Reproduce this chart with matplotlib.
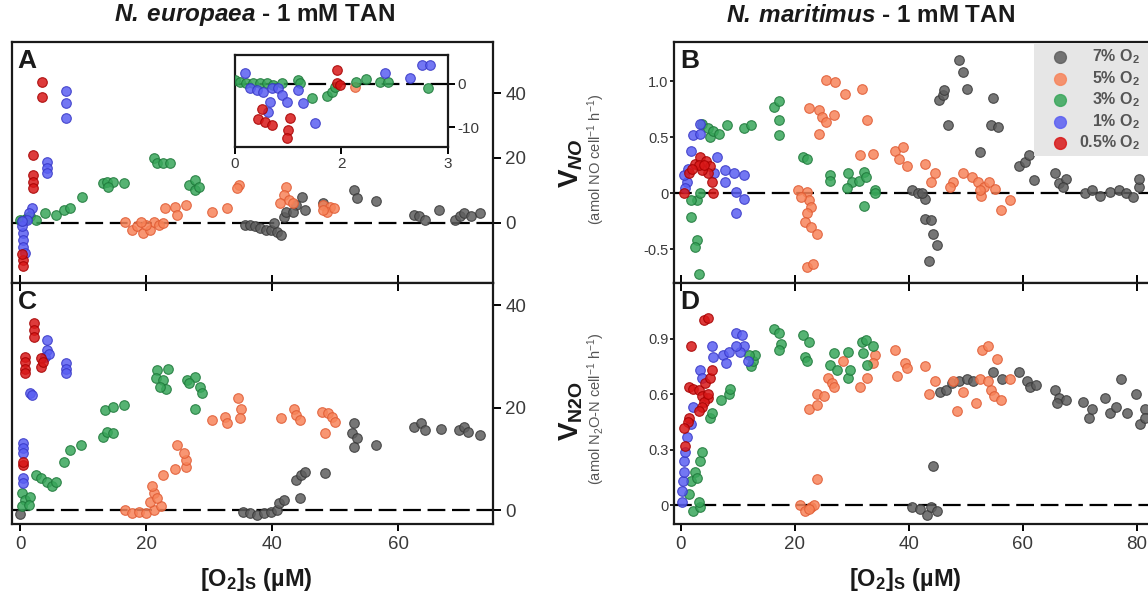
import matplotlib.pyplot as plt
from matplotlib.patches import Rectangle

plt.rcParams['font.family'] = ['Liberation Sans', 'DejaVu Sans']
plt.rcParams['mathtext.fontset'] = 'custom'
plt.rcParams['mathtext.rm'] = 'Liberation Sans'
plt.rcParams['mathtext.it'] = 'Liberation Sans:italic'
plt.rcParams['mathtext.bf'] = 'Liberation Sans:bold'
plt.rcParams['mathtext.bfit'] = 'Liberation Sans:bold:italic'

# O2 levels, drawn in this order (lowest on top)
levels = ['7% O$_\\mathbf{2}$', '5% O$_\\mathbf{2}$', '3% O$_\\mathbf{2}$', '1% O$_\\mathbf{2}$',
          '0.5% O$_\\mathbf{2}$']
face = ['#5e5e5e', '#f7845a', '#38a65a', '#5a5ff2', '#d81818']
edge = ['#383838', '#e05a32', '#1d783a', '#3636c6', '#a60000']

# ---- N. europaea, V_NO (panel A) ----
a_7 = ([35.6, 36.4, 37.3, 38.1, 39.0, 39.8, 40.7, 41.3, 40.3, 41.8, 42.1, 44.7, 43.8, 45.2, 43.3,
        48.0, 52.9, 53.4, 56.5, 62.5, 63.3, 64.2, 66.4, 69.0, 69.8, 70.4, 71.5, 72.9],
       [-0.6, -0.6, -1.1, -1.6, -2.2, -2.2, -2.7, -3.7, -0.1, 1.9, 3.5, 8.1, 5.5, 4.0, 3.5,
        6.1, 10.2, 7.6, 6.6, 2.5, 2.0, 0.9, 4.0, 0.9, 2.0, 3.0, 2.0, 3.0])
a_5 = ([16.6, 17.8, 18.6, 19.5, 20.6, 21.2, 22.0, 22.6, 20.0, 19.2, 22.9, 24.6, 24.8, 26.3, 30.5,
        32.8, 34.7, 34.4, 42.1, 41.8, 42.7, 43.2, 41.2, 48.0, 49.2, 48.6, 48.0, 49.8],
       [0.4, -2.2, -1.1, -3.2, -2.2, 0.4, -0.6, 0.0, -0.6, 0.4, 4.5, 5.0, 2.5, 5.5, 3.5,
        4.5, 11.7, 10.7, 11.2, 8.6, 7.1, 6.1, 6.1, 5.5, 5.0, 3.5, 4.0, 4.5])
a_3 = ([0.0, 0.3, 0.6, 1.0, 1.5, 2.5, 3.9, 5.6, 7.0, 7.9, 9.8, 13.2, 13.8, 14.7, 16.4, 14.0,
        21.2, 21.7, 22.6, 23.7, 26.8, 27.7, 27.7, 28.3],
       [0.9, 0.5, 1.0, 1.5, 2.0, 1.0, 3.0, 2.5, 4.0, 4.5, 8.1, 12.2, 12.7, 12.7, 12.2, 11.2,
        19.9, 18.4, 18.4, 18.4, 11.7, 13.2, 10.2, 11.2])
a_1 = ([7.3, 7.3, 7.3, 4.2, 4.2, 4.2, 1.8, 1.4, 1.0, 0.5, 0.5, 0.5, 0.7, 0.3, 0.2],
       [40.7, 36.8, 32.2, 18.9, 16.8, 15.3, 4.5, 3.0, 1.0, -3.2, -5.2, -7.3, -9.3, -1.0, 0.5])
a_05 = ([3.45, 3.45, 2.0, 2.0, 2.0, 2.0, 0.4, 0.4, 0.3],
        [43.5, 38.9, 20.9, 14.6, 12.7, 10.7, -11.4, -13.4, -9.5])

# inset of A, low O2 range
i_5 = ([1.69], [-0.6])
i_3 = ([0.0, 0.07, 0.16, 0.26, 0.35, 0.45, 0.54, 0.66, 0.89, 0.92, 1.08, 1.29, 1.36, 1.41,
        1.71, 1.85, 2.04, 2.16, 2.72],
       [0.9, 0.5, 0.2, 0.2, 0.2, 0.2, -0.2, 0.2, 0.9, 0.2, -3.3, -2.9, -1.8, -0.6,
        0.5, 1.1, 0.5, 0.5, -1.0])
i_1 = ([0.14, 0.21, 0.31, 0.40, 0.52, 0.61, 0.66, 0.73, 0.49, 0.47, 0.96, 0.89, 1.13, 2.11,
        2.46, 2.63, 2.75],
       [2.5, -1.0, -1.4, -1.8, -1.0, -1.0, -2.6, -4.1, -4.1, -6.4, -4.5, -1.4, -9.1, 2.6,
        1.3, 4.3, 4.3])
i_05 = ([1.43, 1.43, 1.48, 0.38, 0.33, 0.42, 0.52, 0.77, 0.75, 0.73],
        [3.3, 0.2, -0.2, -5.7, -8.2, -8.7, -9.5, -8.0, -10.7, -12.6])

# ---- N. europaea, V_N2O (panel C) ----
c_7 = ([0.0, 35.3, 36.4, 37.6, 38.7, 39.8, 40.7, 41.0, 41.8, 44.4, 43.8, 44.6, 45.2, 48.3, 52.9,
        52.6, 53.4, 52.9, 56.5, 62.5, 63.6, 64.2, 66.7, 69.6, 70.4, 71.0, 72.9],
       [-0.7, -0.3, -0.6, -1.0, -0.6, -0.3, 0.0, 1.3, 2.0, 2.3, 5.9, 6.8, 7.5, 7.2, 16.9,
        15.0, 14.0, 12.4, 12.7, 16.3, 16.9, 15.6, 15.9, 15.6, 16.3, 15.3, 14.6])
c_5 = ([16.6, 17.8, 18.9, 20.0, 21.2, 22.3, 20.6, 21.2, 20.9, 21.7, 22.6, 24.6, 26.3, 26.3, 26.0,
        24.8, 30.5, 32.5, 32.8, 34.5, 35.0, 34.8, 41.3, 43.5, 43.8, 44.4, 47.8, 48.9, 49.5,
        50.0, 48.3],
       [0.0, -0.6, -0.3, -0.6, 0.0, 0.7, 1.6, 3.3, 4.6, 2.3, 6.8, 8.1, 8.5, 9.8, 11.1,
        12.7, 17.6, 18.2, 16.9, 21.8, 19.8, 17.9, 17.9, 19.8, 18.5, 17.6, 19.2, 18.9, 18.2,
        17.2, 15.0])
c_3 = ([0.2, 0.8, 1.6, 0.2, 1.4, 2.5, 3.3, 4.2, 5.0, 5.6, 7.0, 7.9, 9.6, 13.2, 13.8, 14.7,
        13.5, 14.7, 16.4, 21.7, 23.4, 21.5, 22.6, 23.1, 22.1, 26.5, 27.7, 28.5, 28.8, 27.7, 26.8],
       [3.3, 2.0, 2.6, 0.7, 1.0, 6.8, 6.2, 5.5, 4.6, 5.5, 9.4, 11.7, 12.7, 14.3, 15.3, 15.0,
        19.5, 20.2, 20.5, 27.3, 27.6, 25.7, 25.4, 23.7, 24.1, 25.4, 26.0, 24.1, 22.8, 19.8, 24.7])
c_1 = ([4.2, 4.2, 3.9, 4.6, 7.3, 7.3, 7.3, 1.6, 1.9, 0.5, 0.5, 0.5, 0.5, 0.5],
       [33.2, 31.2, 29.9, 30.5, 28.6, 27.6, 26.7, 22.8, 22.4, 13.0, 12.1, 11.1, 6.2, 5.2])
c_05 = ([2.2, 2.2, 2.2, 0.8, 0.8, 0.8, 0.8, 3.3, 3.3, 3.6, 0.5, 0.5],
        [36.4, 35.1, 33.8, 29.9, 28.9, 27.6, 26.7, 29.6, 28.0, 28.9, 8.8, 9.4])

# ---- N. maritimus, V_NO (panel B) ----
b_7 = ([40.6, 41.6, 42.9, 42.3, 42.9, 43.9, 44.2, 44.9, 43.6, 45.2, 45.9, 46.2, 46.9, 48.8, 49.5,
        50.2, 52.4, 54.4, 55.7, 54.8, 59.4, 60.4, 61.0, 62.0, 65.6, 66.3, 67.6, 67.0, 70.9,
        72.2, 73.5, 75.2, 76.8, 78.1, 79.4, 80.4, 80.4],
       [0.03, 0.0, -0.05, 0.0, -0.23, -0.24, -0.36, -0.46, -0.60, 0.83, 0.88, 0.92, 0.61, 1.19,
        1.08, 0.93, 0.37, 0.61, 0.59, 0.85, 0.24, 0.28, 0.34, 0.12, 0.18, 0.09, 0.13, 0.06, 0.0,
        0.03, -0.02, 0.01, 0.03, 0.0, -0.03, 0.06, 0.13])
b_5 = ([20.6, 22.2, 22.5, 22.9, 22.2, 21.8, 22.9, 23.8, 22.2, 23.2, 21.0, 22.5, 24.2, 24.8, 26.8,
        25.5, 24.2, 25.5, 27.1, 28.8, 31.7, 32.7, 31.4, 33.7, 37.6, 38.9, 38.3, 39.6, 42.9,
        44.6, 43.9, 47.8, 49.5, 51.1, 52.1, 53.1, 54.1, 55.1, 52.7, 56.1, 57.7, 47.2, 52.4],
       [0.03, 0.01, -0.06, -0.12, -0.18, -0.26, -0.30, -0.36, -0.66, -0.63, -0.03, 0.76, 0.74,
        0.68, 0.70, 0.64, 0.53, 1.01, 0.99, 0.89, 0.93, 0.65, 0.34, 0.35, 0.38, 0.41, 0.31,
        0.24, 0.26, 0.18, 0.10, 0.10, 0.18, 0.15, 0.10, 0.06, 0.10, 0.04, -0.02, -0.15, -0.06,
        0.06, 0.03])
b_3 = ([2.8, 1.8, 1.8, 2.8, 2.5, 3.1, 3.4, 3.8, 4.8, 5.1, 5.7, 6.7, 8.1, 11.0, 12.3, 16.3, 17.3,
        17.3, 17.3, 21.5, 22.2, 26.1, 26.1, 29.4, 30.0, 31.3, 32.1, 32.4, 34.0, 34.0, 32.1, 29.1],
       [-0.06, -0.06, -0.21, -0.42, -0.48, -0.72, 0.0, 0.62, 0.58, 0.50, 0.56, 0.53, 0.61, 0.58,
        0.61, 0.77, 0.82, 0.65, 0.52, 0.32, 0.31, 0.16, 0.11, 0.18, 0.10, 0.11, 0.19, 0.15, 0.03,
        0.0, -0.11, 0.05])
b_1 = ([1.1, 0.5, 1.8, 2.1, 3.4, 3.4, 6.4, 5.8, 7.7, 9.4, 11.0, 7.7, 9.7, 11.0, 9.7, 0.8, 1.3],
       [0.10, 0.16, 0.38, 0.52, 0.62, 0.53, 0.32, 0.18, 0.21, 0.18, 0.16, 0.10, 0.01, -0.05,
        -0.18, 0.05, 0.22])
b_05 = ([0.5, 1.5, 2.5, 3.4, 4.4, 5.1, 4.8, 5.4, 3.8, 5.7, 3.1, 4.1, 2.0],
        [0.0, 0.18, 0.26, 0.32, 0.29, 0.24, 0.18, 0.10, 0.21, 0.0, 0.25, 0.25, 0.22])

# ---- N. maritimus, V_N2O (panel D) ----
d_7 = ([40.6, 41.9, 43.2, 43.9, 44.9, 44.2, 45.5, 46.5, 47.5, 48.8, 50.2, 51.2, 54.7, 56.4, 59.4,
        60.7, 61.3, 62.3, 65.6, 66.3, 67.6, 66.0, 70.6, 71.6, 72.2, 74.4, 75.3, 76.3, 78.2,
        77.2, 79.8, 80.5, 81.4, 81.4],
       [-0.01, -0.02, -0.05, -0.01, -0.03, 0.21, 0.61, 0.62, 0.66, 0.67, 0.68, 0.67, 0.72, 0.68,
        0.72, 0.67, 0.64, 0.65, 0.62, 0.58, 0.57, 0.55, 0.56, 0.47, 0.52, 0.58, 0.50, 0.53,
        0.50, 0.68, 0.60, 0.44, 0.52, 0.47])
d_5 = ([20.9, 21.8, 22.8, 23.4, 23.8, 22.5, 22.5, 23.8, 23.8, 25.1, 25.8, 26.5, 26.8, 28.4, 31.4,
        32.7, 34.0, 33.7, 37.6, 38.0, 39.3, 39.6, 42.9, 43.6, 44.6, 47.8, 48.5, 49.5, 51.8,
        52.4, 52.8, 53.8, 55.4, 54.4, 55.0, 56.1, 57.7, 53.8],
       [0.0, -0.03, -0.01, 0.0, 0.14, -0.02, 0.52, 0.54, 0.60, 0.59, 0.69, 0.66, 0.64, 0.78,
        0.64, 0.69, 0.81, 0.77, 0.84, 0.70, 0.77, 0.74, 0.75, 0.60, 0.67, 0.67, 0.51, 0.61,
        0.55, 0.68, 0.84, 0.86, 0.79, 0.62, 0.59, 0.57, 0.68, 0.67])
d_3 = ([1.5, 2.1, 3.4, 3.1, 1.8, 2.5, 3.4, 3.8, 2.9, 5.1, 5.4, 7.1, 8.4, 8.7, 12.3, 12.6, 13.0,
        12.0, 16.3, 17.3, 17.6, 17.3, 21.5, 22.5, 21.8, 22.2, 26.1, 26.8, 27.4, 29.4, 29.7,
        29.4, 31.7, 32.4, 33.7, 32.7, 32.0],
       [0.06, -0.03, -0.01, 0.02, 0.13, 0.18, 0.24, 0.29, 0.15, 0.47, 0.50, 0.57, 0.60, 0.63,
        0.75, 0.78, 0.81, 0.81, 0.95, 0.93, 0.87, 0.84, 0.92, 0.88, 0.80, 0.78, 0.76, 0.82,
        0.73, 0.69, 0.73, 0.83, 0.88, 0.89, 0.86, 0.76, 0.82])
d_1 = ([0.15, 0.15, 0.3, 0.5, 0.6, 0.8, 1.1, 1.8, 2.1, 3.4, 3.7, 5.4, 5.7, 7.4, 8.0, 9.7, 10.7,
        11.0, 10.4, 11.7, 8.4, 9.7],
       [0.02, 0.08, 0.13, 0.18, 0.24, 0.29, 0.37, 0.44, 0.53, 0.73, 0.69, 0.86, 0.80, 0.81,
        0.77, 0.93, 0.92, 0.86, 0.83, 0.78, 0.83, 0.86])
d_05 = ([4.1, 4.8, 1.8, 1.5, 2.2, 3.1, 3.7, 4.2, 5.1, 5.4, 4.8, 4.1, 4.8, 3.8, 3.1, 1.5, 1.2,
         0.5, 0.8],
        [1.00, 1.01, 0.86, 0.64, 0.63, 0.62, 0.59, 0.66, 0.69, 0.73, 0.58, 0.56, 0.60, 0.53,
         0.51, 0.47, 0.45, 0.42, 0.32])

tick_col = '#3a3a3a'
dash = (0, (8, 3))


def scatter_all(ax, series, s=48):
    for k, d in enumerate(series):
        if d is None:
            continue
        ax.scatter(d[0], d[1], s=s, c=face[k], edgecolors=edge[k], linewidths=0.8,
                   alpha=0.85, zorder=3 + k)
    ax.axhline(0, color='black', lw=1.6, ls=dash, zorder=2)


def frame(ax):
    for sp in ax.spines.values():
        sp.set_linewidth(1.6)
        sp.set_color('#1a1a1a')


def inner_top_ticks(ax):
    # short ticks pointing down from the shared top edge
    for t in ax.xaxis.get_major_ticks():
        t.tick2line.set_marker(3)
        t.tick2line.set_markersize(6)
        t.tick2line.set_markeredgewidth(1.4)


fig = plt.figure(figsize=(11.48, 5.92), dpi=100)

# panel geometry in figure fractions
ax_a = fig.add_axes([0.0105, 0.522, 0.4189, 0.407])
ax_c = fig.add_axes([0.0105, 0.115, 0.4189, 0.407])
ax_b = fig.add_axes([0.5871, 0.522, 0.4529, 0.407])
ax_d = fig.add_axes([0.5871, 0.115, 0.4529, 0.407])
ax_i = fig.add_axes([0.2047, 0.7517, 0.1855, 0.1554])

scatter_all(ax_a, [a_7, a_5, a_3, a_1, a_05])
scatter_all(ax_c, [c_7, c_5, c_3, c_1, c_05])
scatter_all(ax_b, [b_7, b_5, b_3, b_1, b_05])
scatter_all(ax_d, [d_7, d_5, d_3, d_1, d_05])
scatter_all(ax_i, [None, i_5, i_3, i_1, i_05])

# left column: y axis on the right
for ax, ylim in ((ax_a, (-18.5, 55.7)), (ax_c, (-2.7, 44.3))):
    frame(ax)
    ax.set_xlim(-1.3, 75)
    ax.set_ylim(*ylim)
    ax.set_xticks([0, 20, 40, 60])
    ax.set_yticks([0, 20, 40])
    ax.yaxis.tick_right()
    ax.tick_params(axis='y', direction='out', length=6, width=1.4, labelsize=13.5,
                   labelcolor=tick_col, pad=3)
    ax.tick_params(axis='x', width=1.4, labelsize=13.5, labelcolor=tick_col)
ax_a.tick_params(axis='x', direction='in', length=6, labelbottom=False)
ax_c.tick_params(axis='x', direction='out', length=5, top=True, labelbottom=True)
inner_top_ticks(ax_c)

# right column: y axis on the left
for ax, ylim in ((ax_b, (-0.80, 1.35)), (ax_d, (-0.10, 1.20))):
    frame(ax)
    ax.set_xlim(-1.2, 90)
    ax.set_ylim(*ylim)
    ax.set_xticks([0, 20, 40, 60, 80])
    ax.tick_params(axis='y', direction='out', length=3, width=1.2, labelsize=10.5,
                   labelcolor=tick_col, pad=1)
    ax.tick_params(axis='x', width=1.4, labelsize=13.5, labelcolor=tick_col)
ax_b.set_yticks([-0.5, 0, 0.5, 1.0], ['-0.5', '0', '0.5', '1.0'])
ax_d.set_yticks([0, 0.3, 0.6, 0.9], ['0', '0.3', '0.6', '0.9'])
ax_b.tick_params(axis='x', direction='in', length=6, labelbottom=False)
ax_d.tick_params(axis='x', direction='out', length=5, top=True, labelbottom=True)
inner_top_ticks(ax_d)

# inset: low O2 detail of panel A
frame(ax_i)
ax_i.set_facecolor('white')
ax_i.set_xlim(0, 3)
ax_i.set_ylim(-14.6, 6.7)
ax_i.set_xticks([0, 1.5, 3], ['0', '2', '3'])
ax_i.set_yticks([-10, 0], ['-10', '0'])
ax_i.yaxis.tick_right()
ax_i.tick_params(axis='both', direction='out', length=5, width=1.4, labelsize=11,
                 labelcolor=tick_col, pad=2)

# panel letters
for ax, letter in ((ax_a, 'A'), (ax_b, 'B'), (ax_c, 'C'), (ax_d, 'D')):
    ax.text(0.012, 0.97, letter, transform=ax.transAxes, ha='left', va='top',
            fontsize=19, fontweight='bold', color='#1a1a1a', zorder=10)

# column titles
fig.text(0.2213, 0.974, r'$\mathbfit{N.\:europaea}$ - 1 mM TAN', ha='center',
         va='center', fontsize=17.5, fontweight='bold', color='#1a1a1a')
fig.text(0.758, 0.974, r'$\mathbfit{N.\:maritimus}$ - 1 mM TAN', ha='center',
         va='center', fontsize=17.5, fontweight='bold', color='#1a1a1a')

# x labels
xlab = r'[O$_\mathbf{2}$]$_\mathbf{S}$ (µM)'
fig.text(0.2235, 0.021, xlab, ha='center', va='center', fontsize=17, fontweight='bold',
         color='#1a1a1a')
fig.text(0.7885, 0.021, xlab, ha='center', va='center', fontsize=17, fontweight='bold',
         color='#1a1a1a')

# y labels of the right column
fig.text(0.4975, 0.725, r'$\mathbf{V}_{\mathbfit{NO}}$', rotation=90, ha='center', va='center',
         fontsize=20, color='#1a1a1a')
fig.text(0.519, 0.73, r'(amol NO cell$^{-1}$ h$^{-1}$)', rotation=90, ha='center', va='center',
         fontsize=10.5, color='#555555')
fig.text(0.4975, 0.305, r'$\mathbf{V}_{\mathbf{N2O}}$', rotation=90, ha='center', va='center',
         fontsize=20, color='#1a1a1a')
fig.text(0.519, 0.31, r'(amol N$_2$O-N cell$^{-1}$ h$^{-1}$)', rotation=90, ha='center',
         va='center', fontsize=10.5, color='#555555')

# legend of panel B: grey box, markers and right-aligned labels
W, H = 1148.0, 592.0
fig.patches.append(Rectangle((1034 / W, 1 - 156 / H), 0.2, 112 / H, transform=fig.transFigure,
                             facecolor='#e6e6e6', edgecolor='none', zorder=5))
row_y = [57, 79, 100, 122, 143]
for k, lab in enumerate(levels):
    y = 1 - row_y[k] / H
    fig.add_artist(plt.Line2D([1060 / W], [y], ls='none', marker='o', ms=8.5,
                              mfc=face[k], mec=face[k], alpha=0.85, zorder=6))
    fig.text(1140 / W, y, lab, ha='right', va='center', fontsize=11.5, fontweight='bold',
             color='#555555', zorder=7)

fig.savefig('out.png', dpi=100)
